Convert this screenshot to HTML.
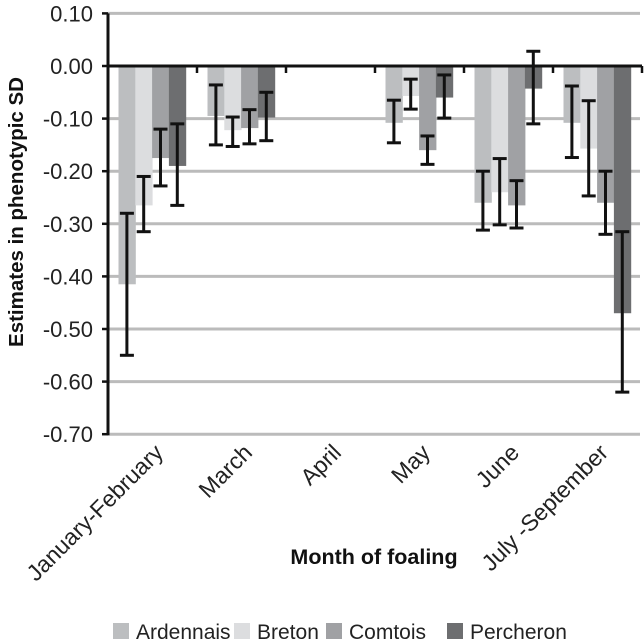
<!DOCTYPE html>
<html><head><meta charset="utf-8"><style>
body{margin:0;background:#fff}
svg{display:block;font-family:"Liberation Sans",Arial,sans-serif}
</style></head><body>
<svg id="chart" width="644" height="644"></svg>
<script>
const categories=["January-February","March","April","May","June","July -September"];
const seriesNames=["Ardennais","Breton","Comtois","Percheron"];
const colors=["#bcbec0","#dcdddf","#a0a1a4","#6d6e70"];
const ardennais=[-0.415,-0.095,null,-0.108,-0.26,-0.108];
const breton=[-0.265,-0.122,null,-0.057,-0.24,-0.157];
const comtois=[-0.175,-0.118,null,-0.16,-0.265,-0.26];
const percheron=[-0.19,-0.098,null,-0.06,-0.043,-0.47];
const errLow=[[-0.55,-0.15,null,-0.146,-0.312,-0.174],[-0.315,-0.153,null,-0.082,-0.302,-0.247],[-0.228,-0.148,null,-0.187,-0.308,-0.32],[-0.265,-0.142,null,-0.099,-0.11,-0.62]];
const errHigh=[[-0.28,-0.036,null,-0.065,-0.2,-0.038],[-0.21,-0.097,null,-0.025,-0.176,-0.066],[-0.12,-0.083,null,-0.133,-0.218,-0.2],[-0.11,-0.05,null,-0.017,0.028,-0.315]];
const yTicks=[0.1,0,-0.1,-0.2,-0.3,-0.4,-0.5,-0.6,-0.7];
const series=[ardennais,breton,comtois,percheron];

const svg=document.getElementById('chart');
const NS="http://www.w3.org/2000/svg";
function mk(tag,attrs,parent){const e=document.createElementNS(NS,tag);for(const k in attrs)e.setAttribute(k,attrs[k]);(parent||svg).appendChild(e);return e;}
const x0=108,catW=89,y0=66,pxPer=526;
const y=v=>y0-v*pxPer;
const xCat=i=>x0+i*catW;
const barW=16.8,pad=10.5;

const grid=mk('g',{});


yTicks.forEach(t=>{
  if(t!==0){const l=mk('line',{x1:x0,x2:640,y1:y(t),y2:y(t),stroke:'#bbbbbb','stroke-width':3},grid);
  
  }
  const tk=mk('line',{x1:x0-6,x2:x0,y1:y(t),y2:y(t),stroke:'#111','stroke-width':2.5});
  
  
  const tx=mk('text',{x:x0-15,y:y(t)+8,'text-anchor':'end','font-size':22,fill:'#222'});
  tx.textContent=t.toFixed(2);
  
  
});
series.forEach((s,si)=>{
  s.forEach((v,ci)=>{
    if(v===null)return;
    const bx=xCat(ci)+pad+si*barW;
    const r=mk('rect',{x:bx,y:y(0),width:barW+0.5,height:y(v)-y(0),fill:colors[si]});
    
    
  });
});
series.forEach((s,si)=>{
  s.forEach((v,ci)=>{
    if(v===null)return;
    const cx=xCat(ci)+pad+si*barW+barW/2;
    const g=mk('g',{stroke:'#111','stroke-width':3});
    
    
    const lo=y(errLow[si][ci]),hi=y(errHigh[si][ci]);
    mk('line',{x1:cx,x2:cx,y1:hi,y2:lo},g);
    mk('line',{x1:cx-7,x2:cx+7,y1:hi,y2:hi},g);
    mk('line',{x1:cx-7,x2:cx+7,y1:lo,y2:lo},g);
  });
});
const ax=mk('line',{x1:x0,x2:x0,y1:y(0.1),y2:y(-0.7)+1,stroke:'#111','stroke-width':3});


const xa=mk('line',{x1:x0,x2:642,y1:y0,y2:y0,stroke:'#111','stroke-width':3});


categories.forEach((c,i)=>{
  const tk=mk('line',{x1:xCat(i+1),x2:xCat(i+1),y1:y0,y2:y0+7,stroke:'#111','stroke-width':2.5});
  
  
  const lx=xCat(i)+catW/2+12,ly=454;
  const t=mk('text',{x:lx,y:ly,'text-anchor':'end','font-size':23,fill:'#222',transform:`rotate(-45 ${lx} ${ly})`});
  t.textContent=c;
  
  
});
const yt=mk('text',{x:23,y:212,'text-anchor':'middle','font-size':20.5,'font-weight':'bold',fill:'#111',transform:'rotate(-90 23 212)'});
yt.textContent='Estimates in phenotypic SD';


const xt=mk('text',{x:374,y:564,'text-anchor':'middle','font-size':21.5,'font-weight':'bold',fill:'#111'});
xt.textContent='Month of foaling';


const lx=[113,234,326,447];
seriesNames.forEach((n,i)=>{
  const g=mk('g',{});
  
  
  mk('rect',{x:lx[i],y:623,width:16,height:16,fill:colors[i]},g);
  const t=mk('text',{x:lx[i]+23,y:639,'font-size':21,fill:'#222'},g);
  t.textContent=n;
});
</script>
</body></html>
